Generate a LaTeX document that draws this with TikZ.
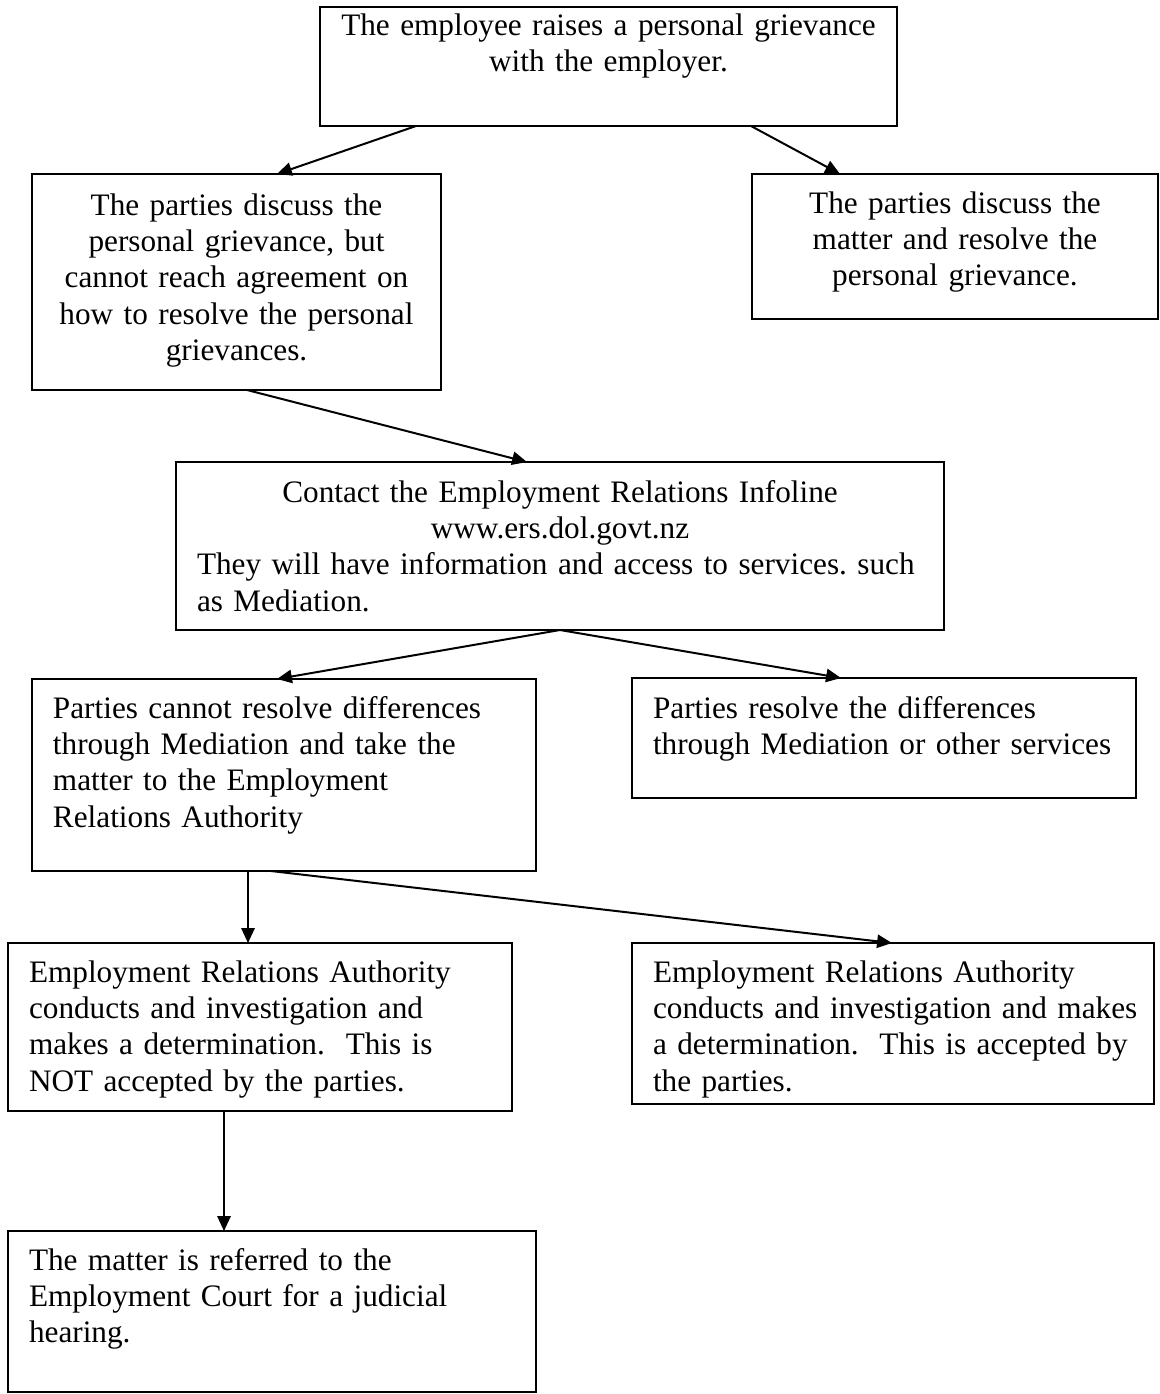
\documentclass[tikz,border=0pt]{standalone}
\usepackage{fontspec}
\setmainfont{Liberation Serif}
\usetikzlibrary{arrows.meta,calc}
\newlength{\pxunit}
\setlength{\pxunit}{0.376pt}
\tikzset{
	stepbox/.style={draw, line width=0.9pt, anchor=north west, outer sep=0pt, inner xsep=21\pxunit, inner ysep=0pt, align=left, font=\fontsize{11.75pt}{13.7pt}\selectfont},
	flow/.style={line width=0.75pt, -{Triangle[length=5.6pt,width=5pt]}}
}
\begin{document}
\begin{tikzpicture}[x=0.376pt,y=-0.376pt]
			\newcommand{\mystrut}[1]{\rule{0pt}{#1\pxunit}}
			\newcommand{\midrow}[1]{\makebox[\linewidth][c]{#1}}
			\newcommand{\leftrow}[1]{\makebox[\linewidth][l]{#1}}
			\useasboundingbox (0,0) rectangle (1160,1394);
			%The employee raises the grievance
			\node [stepbox, text width=535\pxunit, text depth=91\pxunit] (raise) at (320,7) {\mystrut{28}\midrow{The employee raises a personal grievance}\\\midrow{with the employer.}};
			%No agreement and agreement
			\node [stepbox, text width=367\pxunit, text depth=175\pxunit] (discuss) at (32,174) {\mystrut{41}\midrow{The parties discuss the}\\\midrow{personal grievance, but}\\\midrow{cannot reach agreement on}\\\midrow{how to resolve the personal}\\\midrow{grievances.}};
			\node [stepbox, text width=364\pxunit, text depth=106\pxunit] (resolved) at (752,174) {\mystrut{39}\midrow{The parties discuss the}\\\midrow{matter and resolve the}\\\midrow{personal grievance.}};
			%Infoline
			\node [stepbox, text width=726\pxunit, text depth=128\pxunit] (infoline) at (176,462) {\mystrut{40}\midrow{Contact the Employment Relations Infoline}\\\midrow{www.ers.dol.govt.nz}\\\leftrow{They will have information and access to services.\ such}\\\leftrow{as Mediation.}};
			%Mediation
			\node [stepbox, text width=462\pxunit, text depth=153\pxunit] (authority) at (32,679) {\mystrut{39}\leftrow{Parties cannot resolve differences}\\\leftrow{through Mediation and take the}\\\leftrow{matter to the Employment}\\\leftrow{Relations Authority}};
			\node [stepbox, text width=462\pxunit, text depth=80\pxunit] (mediated) at (632,678) {\mystrut{40}\leftrow{Parties resolve the differences}\\\leftrow{through Mediation or other services}};
			%Determination
			\node [stepbox, text width=462\pxunit, text depth=129\pxunit] (rejected) at (8,943) {\mystrut{39}\leftrow{Employment Relations Authority}\\\leftrow{conducts and investigation and}\\\leftrow{makes a determination.\ \ This is}\\\leftrow{NOT accepted by the parties.}};
			\node [stepbox, text width=480\pxunit, text depth=122\pxunit] (accepted) at (632,943) {\mystrut{39}\leftrow{Employment Relations Authority}\\\leftrow{conducts and investigation and makes}\\\leftrow{a determination.\ \ This is accepted by}\\\leftrow{the parties.}};
			%Court
			\node [stepbox, text width=486\pxunit, text depth=122\pxunit] (court) at (8,1231) {\mystrut{39}\leftrow{The matter is referred to the}\\\leftrow{Employment Court for a judicial}\\\leftrow{hearing.}};
			%Arrows
			\draw [flow] ($(raise.south west)+(96,0)$) -- ($(discuss.north west)+(245,0)$);
			\draw [flow] ($(raise.south west)+(431,0)$) -- ($(resolved.north west)+(88,0)$);
			\draw [flow] ($(discuss.south west)+(215,0)$) -- ($(infoline.north west)+(351,0)$);
			\draw [flow] ($(infoline.south west)+(384,0)$) -- ($(authority.north west)+(245,0)$);
			\draw [flow] ($(infoline.south west)+(384,0)$) -- ($(mediated.north west)+(209,0)$);
			\draw [flow] ($(authority.south west)+(216,0)$) -- ($(rejected.north west)+(240,0)$);
			\draw [flow] ($(authority.south west)+(239,0)$) -- ($(accepted.north west)+(260,0)$);
			\draw [flow] ($(rejected.south west)+(216,0)$) -- ($(court.north west)+(216,0)$);
\end{tikzpicture}
\end{document}
